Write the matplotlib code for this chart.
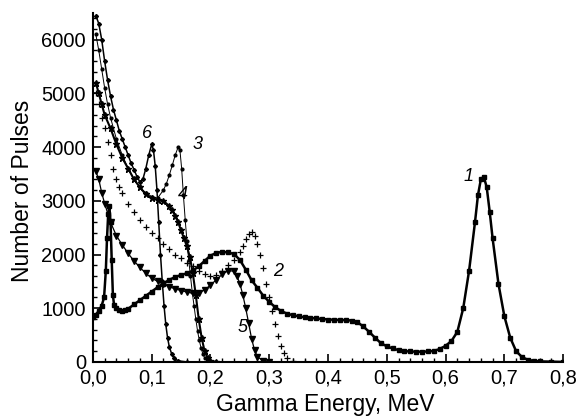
import matplotlib
matplotlib.use("Agg")
import matplotlib.pyplot as plt
from matplotlib.ticker import MultipleLocator, FuncFormatter

plt.rcParams['font.family'] = ['Liberation Sans', 'DejaVu Sans']

# krzywa 1 (Cs-137)
e1 = [0.000, 0.005, 0.010, 0.015, 0.019, 0.022, 0.024, 0.026, 0.028, 0.030,
      0.032, 0.034, 0.036, 0.040, 0.045, 0.050, 0.055, 0.060, 0.070, 0.080,
      0.090, 0.100, 0.110, 0.120, 0.130, 0.140, 0.150, 0.160, 0.170, 0.180,
      0.190, 0.200, 0.210, 0.220, 0.230, 0.240, 0.250, 0.260, 0.270, 0.280,
      0.290, 0.300, 0.310, 0.320, 0.330, 0.340, 0.350, 0.360, 0.370, 0.380,
      0.390, 0.400, 0.410, 0.420, 0.430, 0.440, 0.450, 0.460, 0.470, 0.480,
      0.490, 0.500, 0.510, 0.520, 0.530, 0.540, 0.550, 0.560, 0.570, 0.580,
      0.590, 0.600, 0.610, 0.620, 0.630, 0.640, 0.650, 0.655, 0.660, 0.665,
      0.670, 0.675, 0.680, 0.690, 0.700, 0.710, 0.720, 0.730, 0.740, 0.750,
      0.760, 0.780, 0.800]
n1 = [830, 880, 950, 1050, 1200, 1700, 2300, 2750, 2900, 2600,
      1900, 1250, 1060, 1000, 970, 950, 960, 990, 1070, 1150,
      1230, 1310, 1390, 1460, 1530, 1580, 1620, 1650, 1700, 1780,
      1880, 1980, 2030, 2050, 2040, 2010, 1900, 1720, 1520, 1380,
      1230, 1120, 1020, 950, 900, 870, 850, 830, 820, 810,
      800, 790, 785, 780, 780, 770, 740, 660, 560, 450,
      350, 290, 250, 220, 200, 195, 190, 190, 195, 205,
      240, 300, 390, 560, 1000, 1700, 2600, 3100, 3400, 3450,
      3250, 2800, 2300, 1450, 850, 450, 200, 90, 40, 20,
      10, 5, 0]

# krzywa 2
e2 = [0.005, 0.010, 0.015, 0.020, 0.025, 0.030, 0.035, 0.040, 0.045, 0.050,
      0.060, 0.070, 0.080, 0.090, 0.100, 0.110, 0.120, 0.130, 0.140, 0.150,
      0.160, 0.170, 0.180, 0.190, 0.200, 0.210, 0.220, 0.230, 0.240,
      0.250, 0.255, 0.260, 0.265, 0.270, 0.275, 0.280, 0.285, 0.290, 0.295,
      0.300, 0.305, 0.310, 0.315, 0.320, 0.325, 0.330, 0.340, 0.360]
n2 = [5000, 4800, 4550, 4350, 4100, 3850, 3600, 3400, 3250, 3150,
      2950, 2800, 2650, 2520, 2400, 2300, 2200, 2100, 2000, 1930,
      1850, 1780, 1700, 1640, 1600, 1620, 1700, 1800, 1900,
      2050, 2150, 2280, 2380, 2420, 2350, 2200, 2000, 1750, 1450,
      1200, 950, 700, 480, 300, 160, 70, 15, 0]

# krzywa 3
e3 = [0.005, 0.010, 0.015, 0.020, 0.025, 0.030,
      0.040, 0.050, 0.060, 0.070, 0.080, 0.090, 0.100, 0.110, 0.120,
      0.125, 0.130, 0.135, 0.140, 0.145,
      0.148, 0.151, 0.154, 0.157, 0.160, 0.163, 0.166, 0.169, 0.172, 0.175,
      0.178, 0.181, 0.184, 0.187, 0.190, 0.195, 0.200, 0.210]
n3 = [6100, 5800, 5450, 5100, 4800, 4550,
      4150, 3850, 3600, 3400, 3250, 3150, 3080, 3050, 3200,
      3320, 3480, 3660, 3850, 4000,
      3950, 3600, 3100, 2650, 2250, 1900, 1600, 1300, 1050, 800,
      580, 400, 260, 150, 80, 30, 10, 0]

# krzywa 4
e4 = [0.005, 0.010, 0.015, 0.020,
      0.030, 0.040, 0.050, 0.060, 0.070, 0.080, 0.090, 0.100, 0.110, 0.120, 0.130,
      0.135, 0.140, 0.145, 0.150, 0.155, 0.160, 0.165, 0.170, 0.175, 0.180,
      0.185, 0.190, 0.195, 0.200, 0.210]
n4 = [5200, 5000, 4800, 4600,
      4350, 4050, 3800, 3600, 3400, 3250, 3120, 3050, 3020, 3000, 2900,
      2820, 2720, 2600, 2450, 2300, 2150, 1950, 1650, 1250, 800,
      450, 200, 80, 20, 0]

# krzywa 5
e5 = [0.005, 0.010, 0.015, 0.020, 0.030, 0.040, 0.050, 0.060, 0.070, 0.080,
      0.090, 0.100, 0.110, 0.120, 0.130, 0.140, 0.150, 0.160, 0.170, 0.180,
      0.190, 0.200, 0.210, 0.220, 0.230, 0.240, 0.245, 0.250, 0.255, 0.260,
      0.265, 0.270, 0.275, 0.280, 0.290, 0.300]
n5 = [3550, 3400, 3150, 2950, 2600, 2350, 2180, 2020, 1880, 1760,
      1650, 1560, 1500, 1450, 1400, 1360, 1330, 1300, 1280, 1290,
      1340, 1430, 1530, 1630, 1700, 1690, 1600, 1460, 1250, 1000,
      720, 430, 220, 90, 25, 0]

# krzywa 6
e6 = [0.005, 0.010, 0.015, 0.020, 0.025, 0.030, 0.035, 0.040, 0.045, 0.050,
      0.055, 0.060, 0.065, 0.070, 0.075, 0.080, 0.085, 0.090, 0.095, 0.100,
      0.103, 0.106, 0.109, 0.112, 0.115, 0.118, 0.121, 0.124, 0.127, 0.130,
      0.134, 0.138, 0.145, 0.160]
n6 = [6450, 6300, 6000, 5600, 5250, 4950, 4700, 4500, 4300, 4150,
      4000, 3850, 3700, 3580, 3450, 3350, 3400, 3600, 3850, 4050,
      3950, 3650, 3200, 2600, 2000, 1500, 1050, 700, 450, 280,
      150, 70, 20, 0]

etykiety = ['1', '2', '3', '4', '5', '6']
etyk_x = [0.630, 0.306, 0.170, 0.145, 0.247, 0.083]
etyk_y = [3450, 1680, 4040, 3110, 650, 4260]

fig = plt.figure(figsize=(5.77, 4.16), dpi=100)
ax = fig.add_axes([0.161, 0.130, 0.815, 0.839])

ax.plot(e1, n1, color='black', lw=1.8, marker='s', ms=2.3)
ax.plot(e2, n2, color='black', lw=0, marker='+', ms=4, mew=0.9)
ax.plot(e3, n3, color='black', lw=0.7, marker='o', ms=2.0)
ax.plot(e4, n4, color='black', lw=1.5, marker='*', ms=4.5)
ax.plot(e5, n5, color='black', lw=0.9, marker='v', ms=4)
ax.plot(e6, n6, color='black', lw=1.1, marker='D', ms=2)

for t, x, y in zip(etykiety, etyk_x, etyk_y):
    ax.text(x, y, t, fontsize=13, style='italic', ha='left', va='center')

ax.set_xlim(0, 0.8)
ax.set_ylim(0, 6500)
ax.xaxis.set_major_locator(MultipleLocator(0.1))
ax.xaxis.set_minor_locator(MultipleLocator(0.02))
ax.yaxis.set_major_locator(MultipleLocator(1000))
ax.yaxis.set_minor_locator(MultipleLocator(200))
ax.xaxis.set_major_formatter(FuncFormatter(lambda v, p: f"{v:.1f}".replace('.', ',')))

ax.spines['top'].set_visible(False)
ax.spines['right'].set_visible(False)
ax.spines['left'].set_linewidth(1.5)
ax.spines['bottom'].set_linewidth(1.5)
ax.tick_params(which='major', direction='in', length=5.5, width=1.2, labelsize=14.5, pad=5)
ax.tick_params(which='minor', direction='in', length=3, width=1.0)
ax.tick_params(axis='x', which='major', pad=5)

ax.set_xlabel("Gamma Energy, MeV", fontsize=16.5)
ax.set_ylabel("Number of Pulses", fontsize=16.5)
ax.xaxis.set_label_coords(0.494, -0.088)
ax.yaxis.set_label_coords(-0.125, 0.49)

fig.savefig("out.png", dpi=100)
